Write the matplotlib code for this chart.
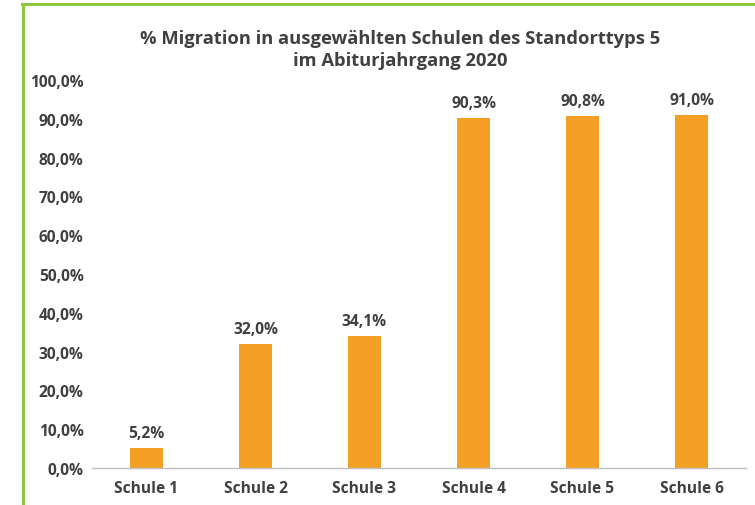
import matplotlib
matplotlib.use("Agg")
import matplotlib.pyplot as plt
from matplotlib.lines import Line2D

categories = ["Schule 1", "Schule 2", "Schule 3", "Schule 4", "Schule 5", "Schule 6"]
values = [5.2, 32.0, 34.1, 90.3, 90.8, 91.0]
yticks = [0, 10, 20, 30, 40, 50, 60, 70, 80, 90, 100]
title = "% Migration in ausgewählten Schulen des Standorttyps 5\nim Abiturjahrgang 2020"

def fmt(v):
    return f"{v:.1f}".replace(".", ",") + "%"

W, H = 755, 506
plt.rcParams['font.family'] = ['Open Sans', 'DejaVu Sans']
fig = plt.figure(figsize=(W/100, H/100), dpi=100)
ax = fig.add_axes([92/W, (H-469)/H, (746-92)/W, (469-81)/H])

text_color = "#404040"
bar_color = "#F4A025"
fs = 11.2
wt = "bold"
x = list(range(len(categories)))
bars = ax.bar(x, values, width=0.31, color=bar_color, zorder=2)
for xi, v in zip(x, values):
    ax.annotate(fmt(v), (xi, v), xytext=(0, 5), textcoords="offset points",
                ha="center", va="bottom", fontsize=fs, fontweight=wt, color=text_color)

ax.set_xlim(-0.5, len(categories) - 0.5)
ax.set_ylim(0, 100)
ax.set_yticks(yticks)
ax.set_yticklabels([fmt(t) for t in yticks], fontsize=fs, fontweight=wt, color=text_color)
ax.set_xticks(x)
ax.set_xticklabels(categories, fontsize=fs, fontweight=wt, color=text_color)
ax.tick_params(axis="y", length=0, pad=6)
ax.tick_params(axis="x", length=0, pad=9)
for s in ["top", "right", "left"]:
    ax.spines[s].set_visible(False)
ax.spines["bottom"].set_color("#BFBFBF")
ax.spines["bottom"].set_linewidth(1.0)

fig.text(400/W, 1 - 50/H, title, ha="center", va="center", fontsize=13.2,
         fontweight=wt, color=text_color, linespacing=1.3)

green = "#8DC63F"
fig.add_artist(Line2D([22/W, 1], [1 - 5/H, 1 - 5/H], color=green, lw=2.2, transform=fig.transFigure))
fig.add_artist(Line2D([23/W, 23/W], [0, 1 - 5/H], color=green, lw=2.2, transform=fig.transFigure))

fig.savefig("out.png", dpi=100)
